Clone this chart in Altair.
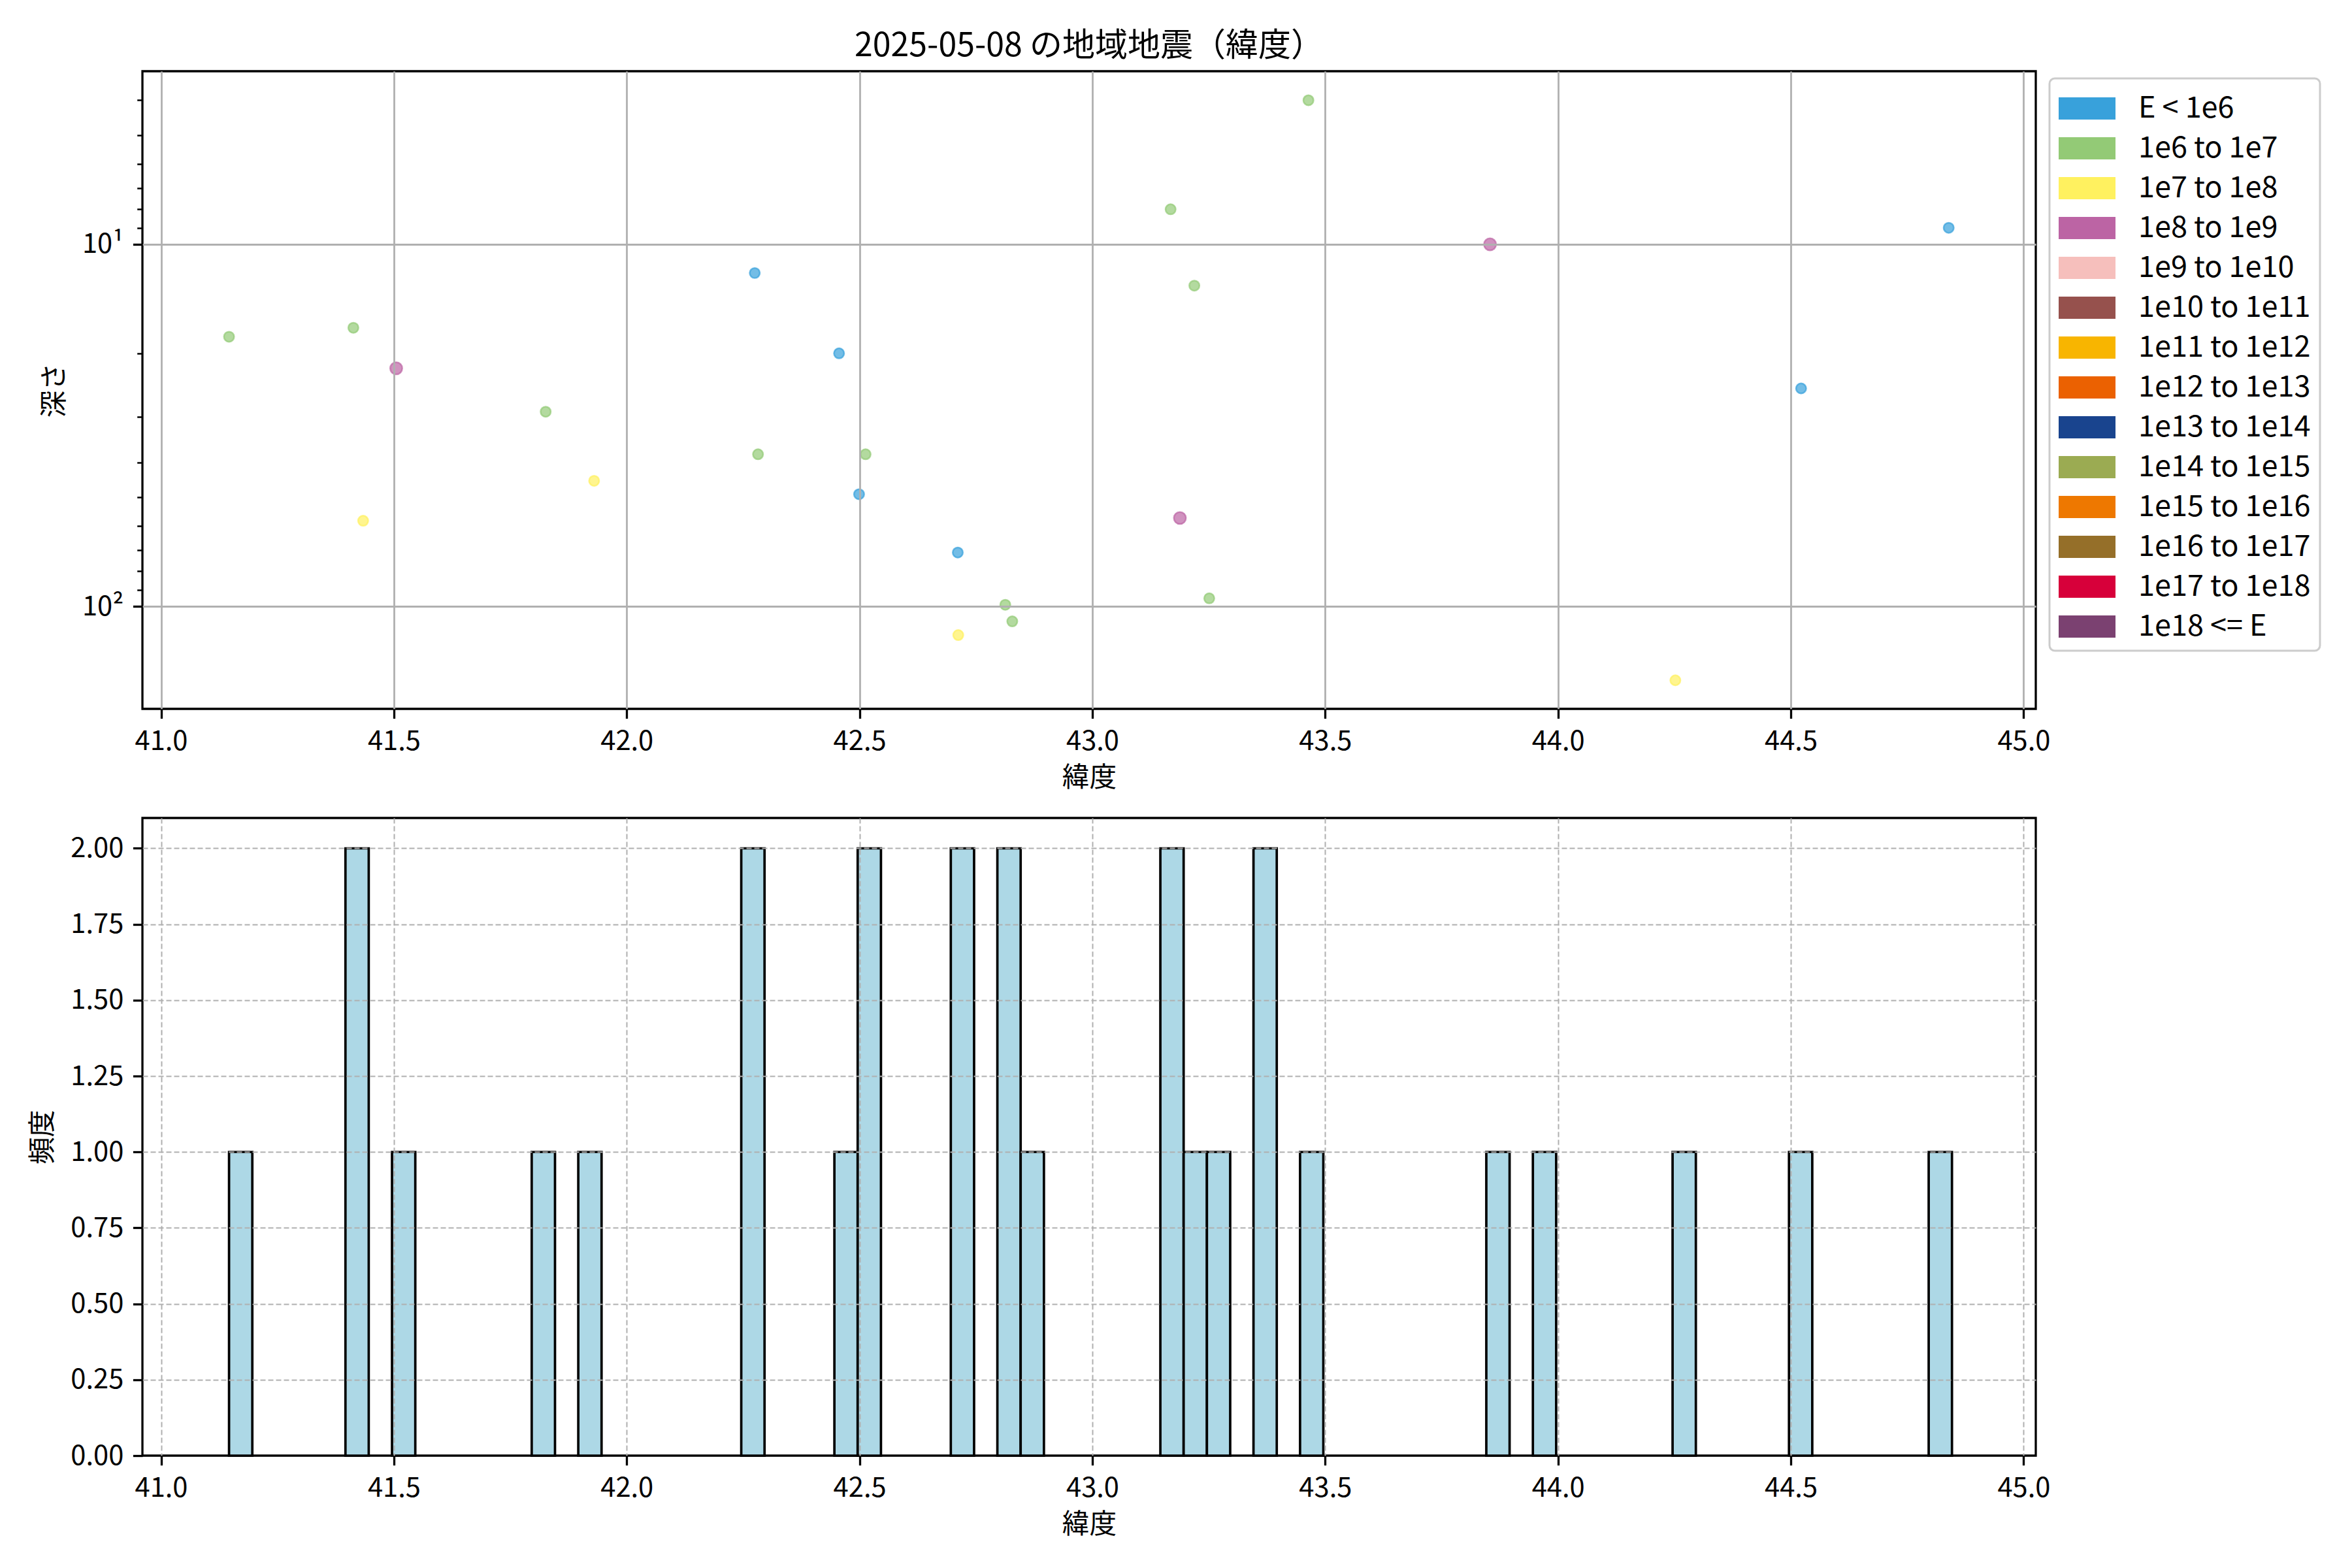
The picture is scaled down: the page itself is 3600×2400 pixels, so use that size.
import altair as alt
import numpy as np
import pandas as pd

FONT = "Noto Sans CJK JP"

# ---- data ----
latitudes = [41.146, 41.413, 41.505, 41.826, 41.434, 41.930, 42.275, 42.456,
             42.282, 42.513, 42.499, 42.711, 42.813, 42.828, 42.712, 43.464,
             43.168, 43.854, 44.839, 43.219, 44.522, 43.188, 43.251, 44.252,
             42.870, 43.360, 43.380, 43.970]
# depth 0 = cannot be shown on the log axis (counted in the histogram only)
depths = [18, 17, 22, 29, 58, 45, 12, 20,
          38, 38, 49, 71, 99, 110, 120, 4.0,
          8, 10, 9, 13, 25, 57, 95, 160,
          0, 0, 0, 0]
energy_class = ["1e6 to 1e7", "1e6 to 1e7", "1e8 to 1e9", "1e6 to 1e7",
                "1e7 to 1e8", "1e7 to 1e8", "E < 1e6", "E < 1e6",
                "1e6 to 1e7", "1e6 to 1e7", "E < 1e6", "E < 1e6",
                "1e6 to 1e7", "1e6 to 1e7", "1e7 to 1e8", "1e6 to 1e7",
                "1e6 to 1e7", "1e8 to 1e9", "E < 1e6", "1e6 to 1e7",
                "E < 1e6", "1e8 to 1e9", "1e6 to 1e7", "1e7 to 1e8",
                "E < 1e6", "E < 1e6", "E < 1e6", "E < 1e6"]

classes = ["E < 1e6", "1e6 to 1e7", "1e7 to 1e8", "1e8 to 1e9", "1e9 to 1e10",
           "1e10 to 1e11", "1e11 to 1e12", "1e12 to 1e13", "1e13 to 1e14",
           "1e14 to 1e15", "1e15 to 1e16", "1e16 to 1e17", "1e17 to 1e18",
           "1e18 <= E"]
class_colors = ["#38a1db", "#93ca76", "#fff15f", "#bc64a4", "#f6bfbc",
                "#96514d", "#f8b500", "#eb6101", "#19448e", "#9bab52",
                "#ee7800", "#956f29", "#d7003a", "#7b4171"]

x_ticks = [41.0, 41.5, 42.0, 42.5, 43.0, 43.5, 44.0, 44.5, 45.0]
y_ticks = [4, 5, 6, 7, 8, 9, 10, 20, 30, 40, 50, 60, 70, 80, 90, 100]
count_ticks = [0, 0.25, 0.5, 0.75, 1.0, 1.25, 1.5, 1.75, 2.0]
bin_width = 0.05

quakes = pd.DataFrame({"lat": latitudes, "depth": depths, "cls": energy_class})

# histogram table
lat_arr = np.array(latitudes)
start = lat_arr.min()
nbins = int(np.ceil((lat_arr.max() - start) / bin_width))
edges = start + bin_width * np.arange(nbins + 1)
counts, _ = np.histogram(lat_arr, bins=edges)
hist_df = pd.DataFrame({"bin_start": edges[:-1], "bin_end": edges[1:], "count": counts})
hist_df = hist_df[hist_df["count"] > 0]

W, H = 2898, 976
x_scale = alt.Scale(domain=[40.96, 45.026], nice=False, zero=False)
color_scale = alt.Scale(domain=classes, range=class_colors)
major = "datum.value == 10 || datum.value == 100"

scatter = alt.Chart(quakes).transform_filter("datum.depth > 0").mark_circle(
    fillOpacity=0.7, strokeOpacity=0.7, strokeWidth=2.5
).encode(
    x=alt.X("lat:Q", scale=x_scale,
            axis=alt.Axis(title="緯度", values=x_ticks, format=".1f", zindex=1,
                          gridWidth=2.8)),
    y=alt.Y("depth:Q",
            scale=alt.Scale(type="log", domain=[3.325, 191.9], reverse=True, nice=False),
            axis=alt.Axis(title="深さ", values=y_ticks, zindex=1, labelOverlap=False,
                          labelExpr="datum.value == 10 ? '10¹' : (datum.value == 100 ? '10²' : '')",
                          tickSize={"condition": {"test": major, "value": 14.6}, "value": 8.3},
                          tickWidth={"condition": {"test": major, "value": 3.3}, "value": 2.5},
                          gridOpacity={"condition": {"test": major, "value": 1}, "value": 0},
                          gridWidth=2.8)),
    color=alt.Color("cls:N", scale=color_scale,
                    legend=alt.Legend(title=" ", titleFontSize=1, titlePadding=14,
                                      orient="none", legendX=W + 21, legendY=11,
                                      symbolType="M-1,-0.39H1V0.39H-1Z", symbolSize=7569,
                                      clipHeight=34, rowPadding=16, labelOffset=35,
                                      labelFont=FONT, labelFontSize=45, labelColor="black",
                                      labelLimit=1000, padding=14, strokeColor="#cccccc",
                                      cornerRadius=8, fillColor="white",
                                      symbolOpacity=1, symbolStrokeWidth=0)),
    stroke=alt.Stroke("cls:N", scale=color_scale, legend=None),
    size=alt.condition("datum.cls == '1e8 to 1e9'", alt.value(340), alt.value(240)),
).properties(
    width=W, height=H,
    title=alt.TitleParams("2025-05-08 の地域地震（緯度）", font=FONT, fontSize=50,
                          fontWeight="normal", color="black", anchor="middle",
                          frame="group", offset=-27, baseline="alphabetic"),
)

hist = alt.Chart(hist_df).mark_bar(
    fill="#add8e6", stroke="black", strokeWidth=3.7
).encode(
    x=alt.X("bin_start:Q", scale=x_scale,
            axis=alt.Axis(title="緯度", values=x_ticks, format=".1f", zindex=1,
                          gridDash=[8, 4], gridWidth=2)),
    x2="bin_end:Q",
    y=alt.Y("count:Q", scale=alt.Scale(domain=[0, 2.1], nice=False),
            axis=alt.Axis(title="頻度", values=count_ticks, format=".2f", zindex=1,
                          gridDash=[8, 4], gridWidth=2,
                          gridOpacity={"condition": {"test": "datum.value == 0", "value": 0},
                                       "value": 1})),
    y2=alt.datum(0),
).properties(width=W, height=H)

chart = alt.vconcat(scatter, hist, spacing=35).properties(
    padding={"left": 36, "top": 36, "right": 5, "bottom": 5},
    background="white",
).configure_axis(
    labelFont=FONT, titleFont=FONT, labelFontSize=41.7, titleFontSize=41.7,
    labelColor="black", titleColor="black", titleFontWeight="normal",
    tickColor="black", tickSize=14.6, tickWidth=3.3, labelPadding=14.6,
    domain=False, gridColor="#b0b0b0",
).configure_axisX(titlePadding=15).configure_axisY(titlePadding=20).configure_view(
    stroke="black", strokeWidth=3.3
).configure_legend(strokeWidth=3)

chart.save("out.html", embed_options={"renderer": "svg", "actions": False})
